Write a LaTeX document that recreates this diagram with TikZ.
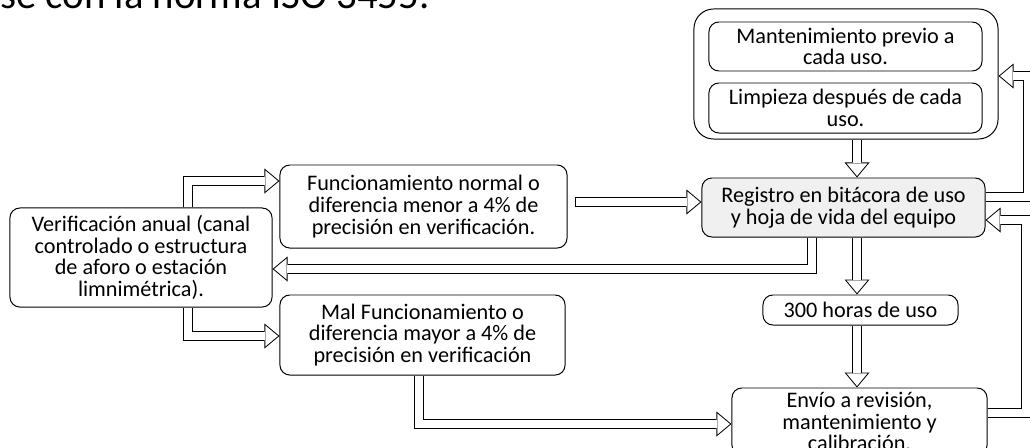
\documentclass[tikz,border=0pt]{standalone}
\usepackage{fontspec}
\setmainfont{Carlito}
\usetikzlibrary{arrows.meta, calc, positioning}

\tikzset{
  box/.style={draw, line width=0.7pt, rounded corners=7pt, fill=white, align=center,
    inner sep=0pt, font=\fontsize{15.8}{15.4}\selectfont},
  shaftout/.style={draw=black, line width=7.11pt,
    -{Triangle[length=10.67pt, width=17.78pt, line width=0pt]}},
  shaftin/.style={draw=white, line width=5.71pt, shorten >=1.094pt, shorten <=0.4pt,
    -{Triangle[length=8.88pt, width=14.79pt, line width=0pt]}},
}
\newcommand{\blockarrow}[1]{\draw[shaftout] #1; \draw[shaftin] #1;}

\begin{document}
\begin{tikzpicture}[x=0.025cm, y=-0.025cm]
\useasboundingbox (0,0) rectangle (1030,447);
\clip (0,0) rectangle (1030,447);
\fill[white] (0,0) rectangle (1030,447);
% running text cut off above the chart
\node[anchor=base west, inner sep=0pt, font=\fontsize{29}{29}\selectfont] (prev) at (0,8) {se con la norma ISO 3455.};

% care box with its two tasks
\node[box, rounded corners=14pt, minimum width=7.6cm, minimum height=3.25cm] (cuidado) at (846,74) {};
\node[box, minimum width=6.825cm, minimum height=1.225cm] (mant) at (845.5,46.5) {Mantenimiento previo a\\cada uso.};
\node[box, minimum width=6.825cm, minimum height=1.25cm] (limp) at (845.5,108) {Limpieza después de cada\\uso.};

\node[box, fill=black!6, minimum width=7.075cm, minimum height=1.475cm] (reg) at (843.5,207.5) {Registro en bitácora de uso\\y hoja de vida del equipo};
\node[box, minimum width=4.875cm, minimum height=0.75cm] (horas) at (860.5,310) {300 horas de uso};
\node[box, minimum width=6.375cm, minimum height=1.675cm] (envio) at (859.5,421.5) {Envío a revisión,\\mantenimiento y\\calibración.};

\node[box, minimum width=7.175cm, minimum height=2.075cm] (func) at (423.5,206.5) {Funcionamiento normal o\\diferencia menor a 4\% de\\precisión en verificación.};
\node[box, minimum width=7.125cm, minimum height=2cm] (mal) at (422.5,335) {Mal Funcionamiento o\\diferencia mayor a 4\% de\\precisión en verificación};
\node[box, minimum width=6.55cm, minimum height=2.475cm] (verif) at (141,257.5) {Verificación anual (canal\\controlado o estructura\\de aforo o estación\\limnimétrica).};

% hollow arrows
\coordinate (col) at (857,0);
\blockarrow{(cuidado.south -| col) -- (reg.north -| col)}
\blockarrow{(reg.south -| col) -- (horas.north -| col)}
\blockarrow{(horas.south -| col) -- (envio.north -| col)}

\coordinate (fr) at (575,202);
\blockarrow{(fr) -- (fr -| reg.west)}

\coordinate (back) at (812,269);
\blockarrow{(reg.south -| back) |- (verif.east |- back)}

\coordinate (up) at (188,181);
\blockarrow{(verif.north -| up) |- (func.west |- up)}
\coordinate (dn) at (188,336);
\blockarrow{(verif.south -| dn) |- (mal.west |- dn)}

\coordinate (lo) at (419,424);
\blockarrow{(mal.south -| lo) |- (envio.west |- lo)}

% loops on the right side
\coordinate (r1) at (985,197);
\coordinate (r2) at (1028,76);
\blockarrow{(reg.east |- r1) -| (r2) -- (cuidado.east |- r2)}
\coordinate (r3) at (1026,220);
\coordinate (r4) at (1026,413);
\blockarrow{(envio.east |- r4) -- (r4) -- (r3) -- (reg.east |- r3)}
\end{tikzpicture}
\end{document}
